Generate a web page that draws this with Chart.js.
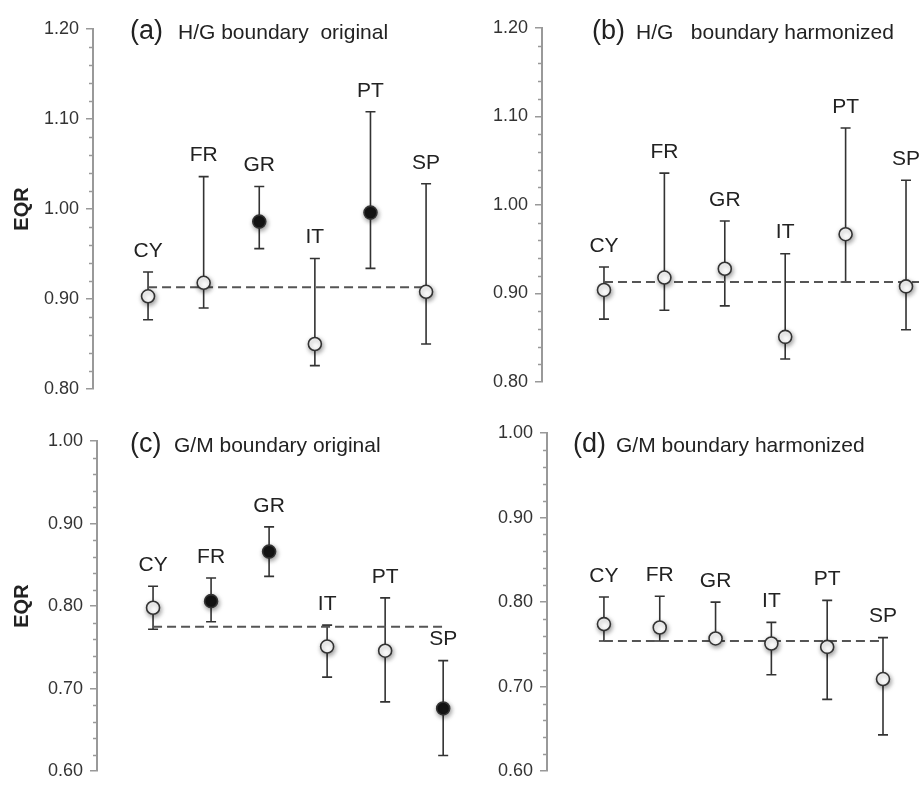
<!DOCTYPE html>
<html><head><meta charset="utf-8">
<script src="https://cdn.jsdelivr.net/npm/chart.js@4/dist/chart.umd.min.js"></script>
<style>
html,body{margin:0;padding:0;background:#fff;overflow:hidden}
#wrap{position:relative;width:919px;height:789px;background:#fff}
canvas{position:absolute;left:0;top:0}
</style></head><body><div id="wrap">
<canvas id="ca" width="919" height="789"></canvas>
<canvas id="cb" width="919" height="789"></canvas>
<canvas id="cc" width="919" height="789"></canvas>
<canvas id="cd" width="919" height="789"></canvas>
</div>
<script>
const categories = ['CY','FR','GR','IT','PT','SP'];

const hgOrigMean   = [0.903, 0.918, 0.986, 0.850, 0.996, 0.908];
const hgOrigUpper  = [0.930, 1.036, 1.025, 0.945, 1.108, 1.028];
const hgOrigLower  = [0.877, 0.890, 0.956, 0.826, 0.934, 0.850];
const hgOrigSignif = [false, false, true, false, true, false];
const hgOrigRef = 0.913;

const hgHarmMean   = [0.904, 0.918, 0.928, 0.851, 0.967, 0.908];
const hgHarmUpper  = [0.930, 1.036, 0.982, 0.945, 1.087, 1.028];
const hgHarmLower  = [0.871, 0.881, 0.886, 0.826, 0.913, 0.859];
const hgHarmSignif = [false, false, false, false, false, false];
const hgHarmRef = 0.913;

const gmOrigMean   = [0.798, 0.806, 0.866, 0.751, 0.746, 0.676];
const gmOrigUpper  = [0.824, 0.834, 0.896, 0.777, 0.810, 0.734];
const gmOrigLower  = [0.772, 0.781, 0.836, 0.714, 0.684, 0.619];
const gmOrigSignif = [false, true, true, false, false, true];
const gmOrigRef = 0.775;

const gmHarmMean   = [0.774, 0.770, 0.757, 0.751, 0.747, 0.709];
const gmHarmUpper  = [0.806, 0.807, 0.800, 0.776, 0.802, 0.758];
const gmHarmLower  = [0.754, 0.754, 0.754, 0.714, 0.685, 0.643];
const gmHarmSignif = [false, false, false, false, false, false];
const gmHarmRef = 0.754;

const yTicksHG = ['0.80','0.90','1.00','1.10','1.20'];
const yTicksGM = ['0.60','0.70','0.80','0.90','1.00'];

const panelLetters = ['(a)','(b)','(c)','(d)'];
const panelTitles = ['H/G boundary  original','H/G   boundary harmonized','G/M boundary original','G/M boundary harmonized'];

const FONT = "'Liberation Sans', Arial, Helvetica, sans-serif";

function makePanel(id, p) {
  const errorBars = {
    id: 'errorBars',
    beforeDatasetsDraw(chart) {
      const ctx = chart.ctx, xs = chart.scales.x, ys = chart.scales.y;
      ctx.save();
      ctx.strokeStyle = '#333';
      ctx.lineWidth = 1.6;
      for (let i = 0; i < categories.length; i++) {
        const x = xs.getPixelForValue(i);
        const yu = ys.getPixelForValue(p.upper[i]);
        const yl = ys.getPixelForValue(p.lower[i]);
        ctx.beginPath();
        ctx.moveTo(x, yu); ctx.lineTo(x, yl);
        ctx.moveTo(x - 5, yu); ctx.lineTo(x + 5, yu);
        ctx.moveTo(x - 5, yl); ctx.lineTo(x + 5, yl);
        ctx.stroke();
      }
      ctx.restore();
    },
    beforeDatasetDraw(chart, args) {
      if (args.index === 0) {
        const ctx = chart.ctx;
        ctx.save();
        ctx.shadowColor = 'rgba(0,0,0,0.4)';
        ctx.shadowBlur = 5;
        ctx.shadowOffsetX = 1;
        ctx.shadowOffsetY = 2;
      }
    },
    afterDatasetDraw(chart, args) {
      if (args.index === 0) chart.ctx.restore();
    },
    afterDatasetsDraw(chart) {
      const ctx = chart.ctx, xs = chart.scales.x, ys = chart.scales.y, ca = chart.chartArea;
      ctx.save();
      // category labels
      ctx.fillStyle = '#222';
      ctx.font = '21px ' + FONT;
      ctx.textAlign = 'center';
      ctx.textBaseline = 'middle';
      for (let i = 0; i < categories.length; i++) {
        const x = xs.getPixelForValue(i);
        const yu = ys.getPixelForValue(p.upper[i]);
        ctx.fillText(categories[i], x, yu - 21);
      }
      // minor ticks
      ctx.strokeStyle = '#999';
      ctx.lineWidth = 1.5;
      ys.ticks.forEach(t => {
        const v = Math.round(t.value * 100);
        if (v % 10 !== 0) {
          const y = Math.round(ys.getPixelForValue(t.value)) + 0.5;
          ctx.beginPath();
          ctx.moveTo(ca.left - 4, y); ctx.lineTo(ca.left, y);
          ctx.stroke();
        }
      });
      // panel title
      ctx.textAlign = 'left';
      ctx.textBaseline = 'alphabetic';
      ctx.fillStyle = '#222';
      ctx.font = '27px ' + FONT;
      ctx.fillText(panelLetters[p.idx], ca.left + p.letterDx, ca.top + p.titleDy);
      ctx.font = '21px ' + FONT;
      ctx.fillText(panelTitles[p.idx], ca.left + p.textDx, ca.top + p.titleDy);
      ctx.restore();
    }
  };

  return new Chart(document.getElementById(id), {
    type: 'scatter',
    data: {
      datasets: [
        {
          data: categories.map((c, i) => ({x: i, y: p.mean[i]})),
          pointRadius: 6.5,
          pointHoverRadius: 6.5,
          pointBackgroundColor: p.signif.map(s => s ? '#141414' : '#ffffff'),
          pointBorderColor: '#333',
          pointBorderWidth: 1.6,
          clip: false,
          order: 1
        },
        {
          data: [{x: 0, y: p.ref}, {x: p.refEnd, y: p.ref}],
          showLine: true,
          borderColor: '#555',
          borderWidth: 2,
          borderDash: [9, 5],
          pointRadius: 0,
          clip: false,
          order: 2
        }
      ]
    },
    options: {
      responsive: false,
      animation: false,
      events: [],
      layout: {padding: p.padding, autoPadding: false},
      plugins: {legend: {display: false}, tooltip: {enabled: false}, title: {display: false}},
      scales: {
        x: {type: 'linear', display: false, min: p.xMin, max: p.xMax},
        y: {
          min: p.yMin, max: p.yMax,
          afterFit(scale) { scale.width = p.axisW; },
          border: {color: '#999', width: 2},
          grid: {
            drawOnChartArea: false,
            tickLength: 7,
            lineWidth: 1.5,
            color: (ctx) => {
              const v = Math.round((ctx.tick ? ctx.tick.value : 0) * 100);
              return v % 10 === 0 ? '#999' : 'rgba(0,0,0,0)';
            }
          },
          ticks: {
            stepSize: 0.02,
            autoSkip: false,
            padding: 7,
            color: '#333',
            font: {family: FONT, size: 18},
            callback: (value) => {
              const lbl = p.tickLabels.find(s => Math.abs(parseFloat(s) - value) < 1e-6);
              return lbl || '';
            }
          },
          title: {
            display: p.showTitle,
            text: 'EQR',
            color: '#222',
            font: {family: FONT, size: 20, weight: 'bold'},
            padding: {top: 10, bottom: 0}
          }
        }
      }
    },
    plugins: [errorBars]
  });
}

makePanel('ca', {idx: 0, mean: hgOrigMean, upper: hgOrigUpper, lower: hgOrigLower, signif: hgOrigSignif,
  ref: hgOrigRef, refEnd: 5, yMin: 0.8, yMax: 1.2, tickLabels: yTicksHG, xMin: -0.99, xMax: 5.61,
  padding: {left: 0, top: 29, right: 459, bottom: 400}, axisW: 93, showTitle: true,
  letterDx: 37, textDx: 85, titleDy: 10});
makePanel('cb', {idx: 1, mean: hgHarmMean, upper: hgHarmUpper, lower: hgHarmLower, signif: hgHarmSignif,
  ref: hgHarmRef, refEnd: 5.25, yMin: 0.8, yMax: 1.2, tickLabels: yTicksHG, xMin: -1.026, xMax: 5.215,
  padding: {left: 460, top: 28, right: 0, bottom: 407}, axisW: 82, showTitle: false,
  letterDx: 50, textDx: 94, titleDy: 11});
makePanel('cc', {idx: 2, mean: gmOrigMean, upper: gmOrigUpper, lower: gmOrigLower, signif: gmOrigSignif,
  ref: gmOrigRef, refEnd: 5, yMin: 0.6, yMax: 1.0, tickLabels: yTicksGM, xMin: -0.966, xMax: 5.29,
  padding: {left: 0, top: 441, right: 459, bottom: 8}, axisW: 97, showTitle: true,
  letterDx: 33, textDx: 77, titleDy: 11});
makePanel('cd', {idx: 3, mean: gmHarmMean, upper: gmHarmUpper, lower: gmHarmLower, signif: gmHarmSignif,
  ref: gmHarmRef, refEnd: 5, yMin: 0.6, yMax: 1.0, tickLabels: yTicksGM, xMin: -1.02, xMax: 5.645,
  padding: {left: 460, top: 433, right: 0, bottom: 15}, axisW: 87, showTitle: false,
  letterDx: 26, textDx: 69, titleDy: 19});
</script>
</body></html>
